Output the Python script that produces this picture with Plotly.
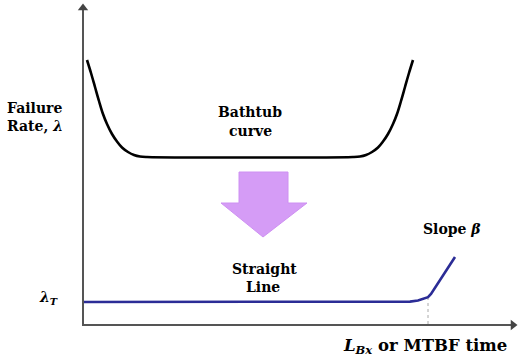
import plotly.graph_objects as go

# Bathtub curve (schematic coordinates)
tub_x = [87, 91, 95, 99, 103, 107, 112, 117, 122, 128, 134, 140, 147,
         353, 360, 366, 372, 378, 383, 388, 393, 397, 401, 405, 409, 413]
tub_y = [60, 73, 87, 101, 114, 124, 134, 141.5, 147.5, 152, 155, 156.5, 157,
         157, 156.5, 155, 152, 147.5, 141.5, 134, 124, 114, 101, 87, 73, 60]

# Straight line representation
line_x = [83, 400, 410, 418, 424, 428, 431, 455]
line_y = [302, 302, 301.6, 300.6, 299, 297.2, 294, 257]

# Down arrow polygon
arrow_x = [239, 288, 288, 307, 263, 221, 239, 239]
arrow_y = [172, 172, 203, 203, 237, 203, 203, 172]

# Axes
yaxis_x = [83, 83]
yaxis_y = [326, 8]
xaxis_x = [82, 513]
xaxis_y = [325, 325]

# text, x, y, anchor, size
labels = [
    ("<b>Failure</b>", 5, 108, "left", 14),
    ("<b>Rate, <i>λ</i></b>", 5, 126, "left", 14),
    ("<b>Bathtub</b>", 250, 112, "center", 14),
    ("<b>curve</b>", 250, 131, "center", 14),
    ("<b>Straight</b>", 264, 269, "center", 14),
    ("<b>Line</b>", 263, 287, "center", 14),
    ("<b>Slope <i>β</i></b>", 452, 229, "center", 14),
    ("<b><i>λ</i><sub><i>T</i></sub></b>", 48, 298, "center", 14),
    ("<b><i>L</i><sub><i>Bx</i></sub> or MTBF time</b>", 341, 346, "left", 16.5),
]

FONT = "DejaVu Serif"

fig = go.Figure()
fig.add_trace(go.Scatter(x=arrow_x, y=arrow_y, mode="lines", fill="toself",
                         fillcolor="#D59CF6", line=dict(color="#CE90F2", width=1),
                         hoverinfo="skip"))
fig.add_trace(go.Scatter(x=tub_x, y=tub_y, mode="lines", line_shape="spline",
                         line=dict(color="black", width=2.6), hoverinfo="skip"))
fig.add_trace(go.Scatter(x=[428, 428], y=[297, 325], mode="lines",
                         line=dict(color="#AAAAAA", width=1, dash="dot"), hoverinfo="skip"))
fig.add_trace(go.Scatter(x=line_x, y=line_y, mode="lines",
                         line=dict(color="#2B2C96", width=2.6), hoverinfo="skip"))
# axis lines with arrowheads
fig.add_trace(go.Scatter(x=yaxis_x, y=yaxis_y, mode="lines",
                         line=dict(color="#555555", width=2), hoverinfo="skip"))
fig.add_trace(go.Scatter(x=xaxis_x, y=xaxis_y, mode="lines",
                         line=dict(color="#555555", width=2), hoverinfo="skip"))
fig.add_trace(go.Scatter(x=[yaxis_x[1], xaxis_x[1]], y=[yaxis_y[1], xaxis_y[1]], mode="markers",
                         marker=dict(symbol=["triangle-up", "triangle-right"], size=9,
                                     color="#444444", line=dict(width=0)),
                         hoverinfo="skip"))

for txt, x, y, anc, sz in labels:
    fig.add_annotation(x=x, y=y, text=txt, showarrow=False, xanchor=anc, yanchor="middle",
                       font=dict(family=FONT, size=sz, color="black"))

fig.update_layout(
    width=522, height=360, margin=dict(l=0, r=0, t=0, b=0),
    paper_bgcolor="white", plot_bgcolor="white", showlegend=False,
    font=dict(family=FONT),
    xaxis=dict(range=[0, 522], visible=False, fixedrange=True),
    yaxis=dict(range=[360, 0], visible=False, fixedrange=True),
)
fig.write_html("out.html")
